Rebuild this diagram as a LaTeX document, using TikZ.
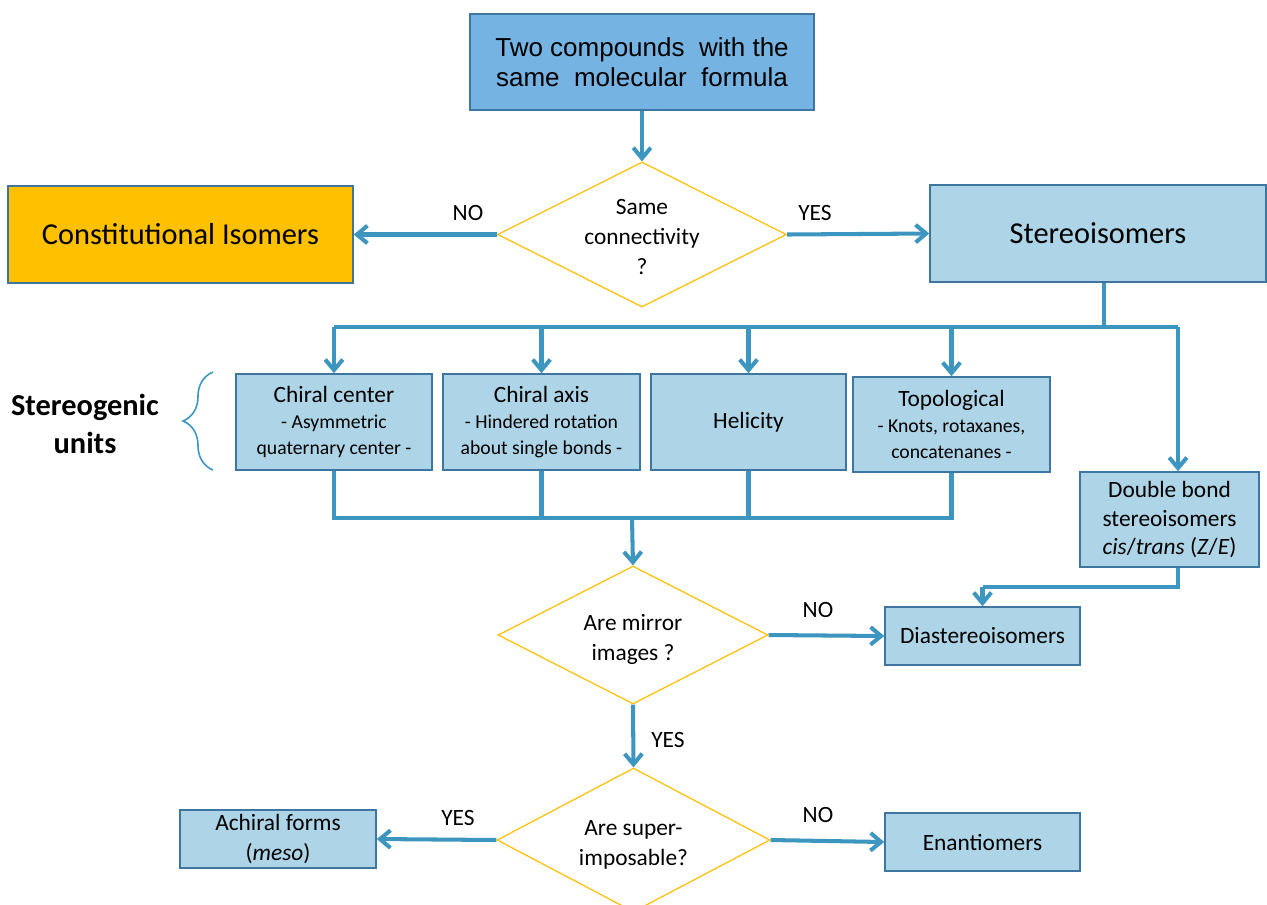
\documentclass[tikz,border=0pt]{standalone}
\usepackage{fontspec}
\setmainfont{Carlito}
\newfontfamily\arialf{Liberation Sans}
\usetikzlibrary{shapes.geometric,arrows.meta,decorations.pathreplacing}
\definecolor{arrc}{RGB}{60,150,192}
\definecolor{boxline}{RGB}{62,118,160}
\definecolor{lightfill}{RGB}{173,213,231}
\definecolor{topfill}{RGB}{117,180,226}
\definecolor{orangefill}{RGB}{255,192,0}
\definecolor{dyellow}{RGB}{255,192,0}
\newcommand{\subf}{\fontsize{11.2}{14}\selectfont}
\newcommand{\dtext}[1]{\raisebox{-6pt}[0pt][0pt]{\makebox[0pt]{\begin{tabular}{@{}c@{}}#1\end{tabular}}}}
\begin{document}
\begin{tikzpicture}[x=0.02cm,y=-0.02cm,
  box/.style={draw=boxline, line width=0.9pt, fill=lightfill, inner sep=2pt, align=center,
    font=\fontsize{13.3}{16.4}\selectfont},
  unitbox/.style={box, font=\fontsize{13.3}{14.8}\selectfont},
  dia/.style={diamond, draw=dyellow, line width=0.7pt, fill=white, inner sep=0pt,
    font=\fontsize{13.3}{17}\selectfont},
  conn/.style={draw=arrc, line width=2.3pt},
  arr/.style={draw=arrc, line width=2.3pt, -{Straight Barb[length=6pt,width=10pt]}},
  lbl/.style={font=\fontsize{13.3}{16}\selectfont},
  big/.style={font=\fontsize{17.3}{20}\selectfont}
]
\useasboundingbox (0,0) rectangle (1267,904);

% nodes
\node[box, fill=topfill, minimum width=6.88cm, minimum height=1.92cm,
      font=\arialf\fontsize{14.8}{17}\selectfont] (top) at (642,62)
      {Two compounds\ \ with the\\same\ \ molecular\ \ formula};
\node[dia, minimum width=5.78cm, minimum height=2.9cm] (d1) at (642,234.5)
      {\dtext{Same\\connectivity\\?}};
\node[box, fill=orangefill, minimum width=6.9cm, minimum height=1.94cm, big] (const) at (180.5,234.5)
      {Constitutional Isomers};
\node[box, minimum width=6.72cm, minimum height=1.94cm, big] (stereo) at (1098,233.5)
      {Stereoisomers};

\node[unitbox, minimum width=3.92cm, minimum height=1.92cm] (cc) at (334,422)
      {Chiral center\\{\subf - Asymmetric}\\{\subf quaternary center -}};
\node[unitbox, minimum width=3.94cm, minimum height=1.92cm] (ca) at (541.5,422)
      {Chiral axis\\{\subf - Hindered rotation}\\{\subf about single bonds -}};
\node[box, minimum width=3.9cm, minimum height=1.92cm] (hel) at (748.5,422)
      {Helicity};
\node[unitbox, minimum width=3.94cm, minimum height=1.9cm] (topo) at (951.5,424.5)
      {Topological\\{\subf - Knots, rotaxanes,}\\{\subf concatenanes -}};
\node[box, minimum width=3.58cm, minimum height=1.9cm] (db) at (1169.5,519.5)
      {Double bond\\stereoisomers\\\textit{cis}/\textit{trans} (\textit{Z}/\textit{E})};

\node[font=\bfseries\fontsize{17.3}{22}\selectfont, align=center] (sgu) at (85,424)
      {Stereogenic\\units};
\draw[draw=arrc, line width=0.9pt, decorate, decoration={brace, amplitude=0.6cm}]
      (213,470) -- (213,372);

\node[dia, minimum width=5.4cm, minimum height=2.76cm] (d2) at (633,635)
      {\dtext{Are mirror\\images ?}};
\node[box, minimum width=3.9cm, minimum height=1.16cm] (dia) at (982.5,636)
      {Diastereoisomers};
\node[dia, minimum width=5.46cm, minimum height=2.88cm] (d3) at (633.5,840)
      {\dtext{Are super-\\imposable?}};
\node[box, minimum width=3.92cm, minimum height=1.16cm, font=\fontsize{13.3}{17}\selectfont] (ach) at (278,839)
      {Achiral forms\\(\textit{meso})};
\node[box, minimum width=3.9cm, minimum height=1.16cm] (ena) at (982.5,842)
      {Enantiomers};

% labels
\node[lbl] (l1) at (468,213) {NO};
\node[lbl] (l2) at (815,213) {YES};
\node[lbl] (l3) at (818,610) {NO};
\node[lbl] (l4) at (668,740) {YES};
\node[lbl] (l5) at (458,818) {YES};
\node[lbl] (l6) at (818,815) {NO};

% junction coordinates
\coordinate (j1) at (1104,327);
\coordinate (j2) at (1178,327);
\coordinate (m) at (632,518);
\coordinate (k) at (1178,587);

% connectors
\draw[arr] (top.south) -- (d1.north);
\draw[arr] (d1.west) -- (const.east);
\draw[arr] (d1.east) -- (stereo.west);
\draw[conn] (stereo.south -| j1) -- (j1);
\draw[conn] (cc.north |- j1) -- (j2);
\draw[arr] (j2) -- (j2 |- db.north);
\draw[arr] (cc.north |- j1) -- (cc.north);
\draw[arr] (ca.north |- j1) -- (ca.north);
\draw[arr] (hel.north |- j1) -- (hel.north);
\draw[arr] (topo.north |- j1) -- (topo.north);

\draw[conn] (cc.south) -- (cc.south |- m) -- (topo.south |- m) -- (topo.south);
\draw[conn] (ca.south) -- (ca.south |- m);
\draw[conn] (hel.south) -- (hel.south |- m);
\draw[arr] (m) -- (d2.north);

\draw[arr] (d2.east) -- (dia.west);
\draw[conn] (j2 |- db.south) -- (k) -- (k -| dia.north);
\draw[arr] (k -| dia.north) -- (dia.north);
\draw[arr] (d2.south) -- (d3.north);
\draw[arr] (d3.west) -- (ach.east);
\draw[arr] (d3.east) -- (ena.west);
\end{tikzpicture}
\end{document}
